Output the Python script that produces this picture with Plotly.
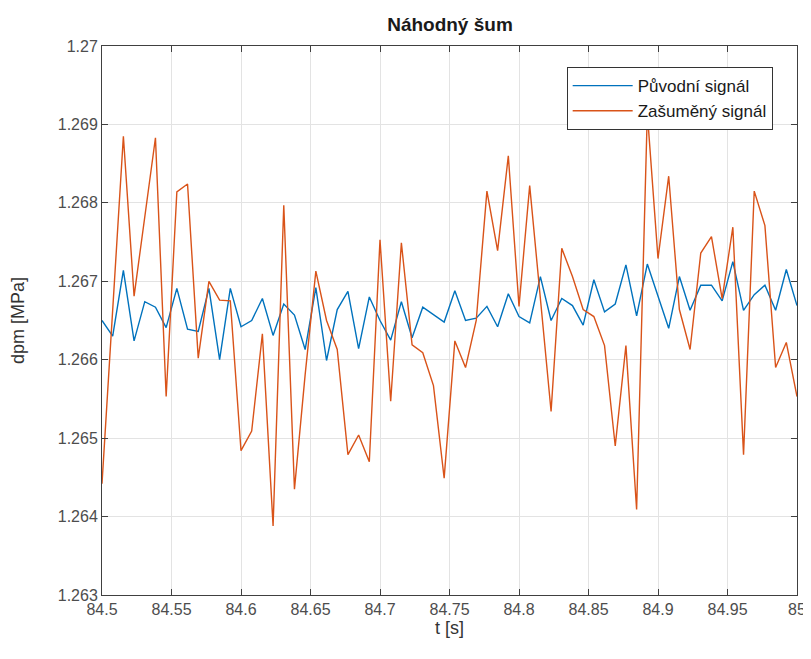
import plotly.graph_objects as go

# Sample times (uniform sampling, 66 samples over the shown window)
t = [84.5 + k * 0.5 / 65 for k in range(66)]

puvodni = [
    1.26650, 1.26630, 1.26714, 1.26624, 1.26674, 1.26667, 1.26641, 1.26691, 1.26639, 1.26636,
    1.26691, 1.26600, 1.26691, 1.26642, 1.26650, 1.26678, 1.26631, 1.26671, 1.26657, 1.26613,
    1.26692, 1.26599, 1.26664, 1.26687, 1.26614, 1.26680, 1.26650, 1.26625, 1.26674, 1.26628,
    1.26667, 1.26657, 1.26648, 1.26688, 1.26650, 1.26653, 1.26668, 1.26642, 1.26684, 1.26655,
    1.26647, 1.26706, 1.26650, 1.26678, 1.26669, 1.26644, 1.26702, 1.26661, 1.26671, 1.26721,
    1.26656, 1.26722, 1.26681, 1.26640, 1.26706, 1.26663, 1.26695, 1.26695, 1.26675, 1.26725,
    1.26663, 1.26683, 1.26695, 1.26663, 1.26715, 1.26669,
]

zasumeny = [
    1.26442, 1.26663, 1.26885, 1.26681, 1.26785, 1.26883, 1.26553, 1.26814, 1.26824, 1.26602,
    1.26700, 1.26676, 1.26675, 1.26484, 1.26509, 1.26633, 1.26388, 1.26797, 1.26435, 1.26581,
    1.26713, 1.26650, 1.26613, 1.26479, 1.26504, 1.26470, 1.26753, 1.26547, 1.26749, 1.26619,
    1.26609, 1.26567, 1.26449, 1.26624, 1.26590, 1.26650, 1.26815, 1.26739, 1.26860, 1.26668,
    1.26822, 1.26678, 1.26534, 1.26742, 1.26706, 1.26664, 1.26655, 1.26618, 1.26490, 1.26618,
    1.26409, 1.26915, 1.26729, 1.26834, 1.26664, 1.26613, 1.26736, 1.26757, 1.26678, 1.26769,
    1.26479, 1.26815, 1.26771, 1.26590, 1.26622, 1.26553,
]

x_ticks = [84.5, 84.55, 84.6, 84.65, 84.7, 84.75, 84.8, 84.85, 84.9, 84.95, 85.0]
x_tick_labels = ["84.5", "84.55", "84.6", "84.65", "84.7", "84.75", "84.8", "84.85", "84.9", "84.95", "85"]
y_ticks = [1.263, 1.264, 1.265, 1.266, 1.267, 1.268, 1.269, 1.27]
y_tick_labels = ["1.263", "1.264", "1.265", "1.266", "1.267", "1.268", "1.269", "1.27"]

FONT = "Liberation Sans, Arial, Helvetica, sans-serif"
AX = "#404040"

fig = go.Figure()
fig.add_trace(go.Scatter(x=t, y=puvodni, mode="lines", name="Původní signál",
                         line=dict(color="#0072BD", width=1.4)))
fig.add_trace(go.Scatter(x=t, y=zasumeny, mode="lines", name="Zašuměný signál",
                         line=dict(color="#D95319", width=1.4)))

axis_common = dict(
    showline=True, linecolor=AX, linewidth=1, mirror="ticks",
    ticks="inside", ticklen=6, tickcolor=AX, tickwidth=1,
    showgrid=True, gridcolor="#e3e3e3", gridwidth=1,
    zeroline=False, automargin=False,
    tickfont=dict(family=FONT, size=16, color="#4d4d4d"),
)

fig.update_layout(
    width=803, height=651,
    margin=dict(l=94, r=14, t=38, b=64),
    paper_bgcolor="white", plot_bgcolor="white",
    title=dict(text="<b>Náhodný šum</b>", x=0.5504, xanchor="center", y=0.975, yanchor="middle",
               yref="container",
               font=dict(family=FONT, size=19, color="#1a1a1a")),
    xaxis=dict(range=[84.5, 85.0], tickvals=x_ticks, ticktext=x_tick_labels,
               title=dict(text="t [s]", font=dict(family=FONT, size=18, color="#333333"), standoff=2),
               **axis_common),
    yaxis=dict(range=[1.263, 1.27], tickvals=y_ticks, ticktext=y_tick_labels,
               title=dict(text="dpm [MPa]", font=dict(family=FONT, size=18, color="#333333"), standoff=30),
               **axis_common),
    legend=dict(x=0.965, y=0.9617, xanchor="right", yanchor="top",
                bgcolor="white", bordercolor="#333333", borderwidth=1,
                font=dict(family=FONT, size=17, color="#1a1a1a"),
                tracegroupgap=0, itemwidth=60),
    showlegend=True,
)

fig.write_html("out.html")
